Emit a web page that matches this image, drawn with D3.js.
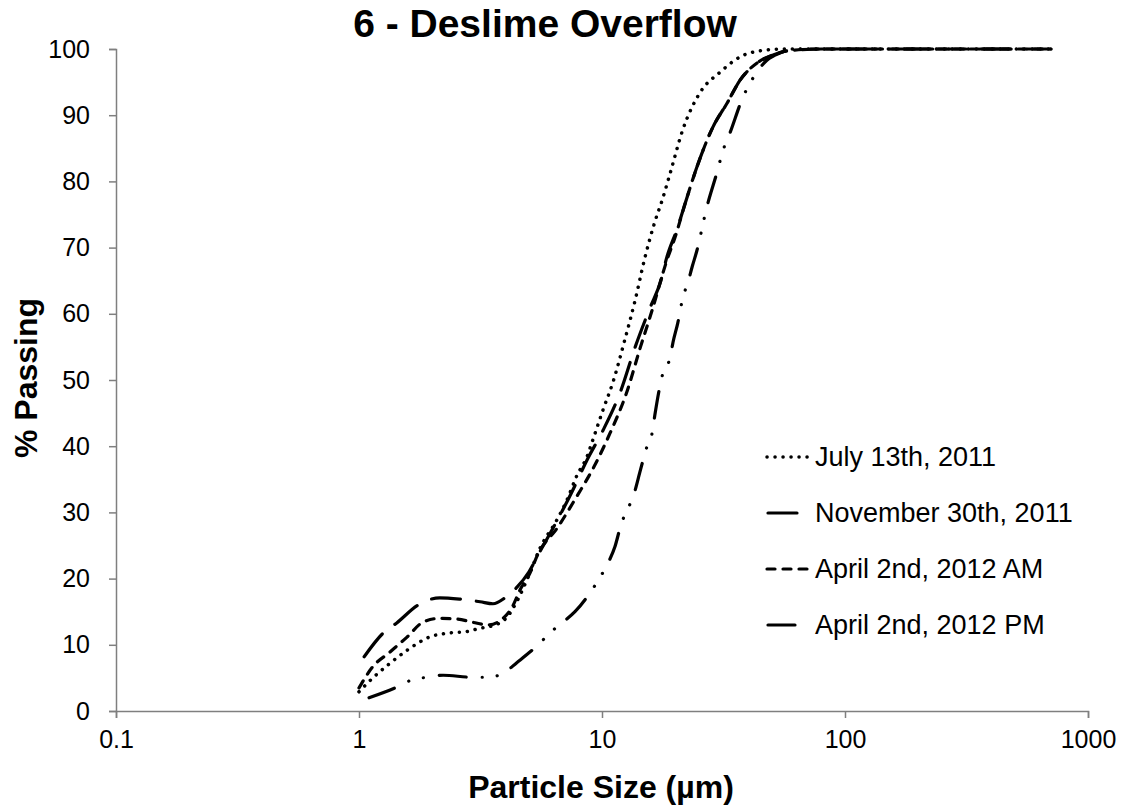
<!DOCTYPE html>
<html>
<head>
<meta charset="utf-8">
<script src="https://cdn.jsdelivr.net/npm/d3@7"></script>
<style>
  html, body { margin: 0; padding: 0; background: #fff; }
  svg { display: block; font-family: "Liberation Sans", Arial, sans-serif; }
</style>
</head>
<body>
<svg id="chart" width="1131" height="808"></svg>
<script>
// ---- Data (particle size in µm, % passing) ----
const seriesNames = ["July 13th, 2011", "November 30th, 2011", "April 2nd, 2012 AM", "April 2nd, 2012 PM"];

const julySize    = [1.0, 1.14, 1.34, 1.58, 1.96, 2.37, 2.78, 3.15, 3.4, 4.0, 4.5, 5.0, 5.56, 6.53, 7.18, 7.89, 8.67, 9.1, 10.1, 11.1, 12.4, 13.7, 15.0, 16.5, 17.7, 19.1, 21.5, 25.3, 30.6, 37.0, 46.0, 56, 80, 150, 300, 704];
const julyPassing = [2.9, 5.0, 7.2, 9.2, 11.2, 11.8, 12.0, 12.5, 12.7, 13.9, 16.8, 20.5, 24.6, 28.9, 31.9, 35.6, 38.4, 40.6, 45.5, 49.7, 56.0, 62.1, 68.4, 73.9, 77.2, 81.3, 87.8, 93.4, 96.5, 98.8, 99.8, 100, 100, 100, 100, 100];

const novSize    = [1.05, 1.26, 1.43, 1.75, 2.15, 2.6, 3.15, 3.56, 3.99, 4.47, 5.0, 5.5, 6.5, 7.5, 8.7, 10.1, 11.9, 13.7, 15.8, 17.4, 18.5, 20.5, 22.0, 24.6, 28.6, 32.7, 37.0, 43.5, 50.6, 60, 80, 150, 300, 704];
const novPassing = [8.2, 11.8, 13.3, 16.0, 17.1, 16.9, 16.5, 16.2, 17.1, 18.7, 21.0, 23.8, 28.6, 33.0, 38.0, 42.4, 48.2, 55.0, 61.0, 64.8, 68.6, 73.1, 76.7, 82.2, 88.2, 91.8, 95.3, 97.9, 99.1, 99.8, 100, 100, 100, 100];

const amSize    = [1.0, 1.14, 1.34, 1.58, 1.83, 2.15, 2.53, 2.94, 3.4, 3.92, 4.27, 4.6, 5.0, 5.5, 6.5, 7.9, 9.3, 10.8, 12.6, 14.4, 16.1, 18.5, 20.0, 22.0, 24.6, 28.6, 32.7, 37.0, 43.5, 50.6, 60, 80, 150, 300, 704];
const amPassing = [3.5, 6.7, 8.9, 11.2, 13.4, 14.0, 13.9, 13.4, 13.0, 14.0, 15.7, 18.3, 20.5, 24.0, 27.5, 32.5, 37.0, 42.0, 48.0, 55.0, 60.6, 68.1, 71.6, 76.7, 82.2, 88.2, 91.8, 95.3, 97.9, 99.1, 99.8, 100, 100, 100, 100];

const pmSize    = [1.1, 1.43, 1.65, 1.91, 2.22, 2.92, 3.4, 3.92, 4.46, 5.46, 6.11, 6.84, 7.74, 9.1, 9.82, 10.6, 11.3, 11.9, 13.7, 14.3, 15.3, 16.1, 16.5, 17.8, 19.1, 19.6, 20.5, 21.5, 22.6, 23.5, 24.6, 27.0, 29.7, 31.5, 33.6, 38.0, 41.8, 47.7, 54.0, 65, 80, 150, 300, 704];
const pmPassing = [2.0, 3.6, 4.7, 5.1, 5.4, 5.1, 5.1, 5.7, 7.3, 10.0, 11.8, 13.3, 15.0, 18.3, 20.2, 22.4, 24.8, 27.8, 33.4, 36.0, 39.9, 42.1, 44.7, 51.0, 53.5, 55.7, 58.6, 62.4, 64.8, 67.1, 69.6, 76.1, 81.3, 84.7, 87.3, 92.7, 95.6, 98.3, 99.4, 100, 100, 100, 100, 100];

const xTickValues = [0.1, 1, 10, 100, 1000];
const xTickLabels = ["0.1", "1", "10", "100", "1000"];
const yTickValues = [0, 10, 20, 30, 40, 50, 60, 70, 80, 90, 100];

const titleText = "6 - Deslime Overflow";
const xAxisTitle = "Particle Size (µm)";
const yAxisTitle = "% Passing";

// ---- Styles ----
const lineStyles = [
  { dash: "0.1,7.9", cap: "round", width: 3.5 },
  { dash: "29,16", cap: "round", width: 3.2 },
  { dash: "8,8", cap: "round", width: 3.2 },
  { dash: "27,16,0.1,15,0.1,16", cap: "round", width: 3.2 }
];

const svg = d3.select("#chart");
const plotLeft = 116, plotRight = 1088, plotTop = 49, plotBottom = 711;

const x = d3.scaleLog().domain([0.1, 1000]).range([plotLeft, plotRight]);
const y = d3.scaleLinear().domain([0, 100]).range([plotBottom, plotTop]);

const axisColor = "#7f7f7f";

// X axis
const xAxis = svg.append("g")
  .attr("transform", `translate(0,${plotBottom})`)
  .call(d3.axisBottom(x).tickValues(xTickValues).tickFormat((d, i) => xTickLabels[i]).tickSizeOuter(0).tickSize(7).tickPadding(12));
xAxis.select(".domain").attr("stroke", axisColor).attr("stroke-width", 1.5);
xAxis.selectAll(".tick line").attr("stroke", axisColor).attr("stroke-width", 1.5);
xAxis.selectAll(".tick text").attr("font-size", 25).attr("fill", "#000").attr("font-family", "Liberation Sans, Arial, sans-serif");

// Y axis
const yAxis = svg.append("g")
  .attr("transform", `translate(${plotLeft},0)`)
  .call(d3.axisLeft(y).tickValues(yTickValues).tickFormat(d3.format("d")).tickSizeOuter(0).tickSize(7).tickPadding(19));
yAxis.select(".domain").attr("stroke", axisColor).attr("stroke-width", 1.5);
yAxis.selectAll(".tick line").attr("stroke", axisColor).attr("stroke-width", 1.5);
yAxis.selectAll(".tick text").attr("font-size", 25).attr("fill", "#000").attr("font-family", "Liberation Sans, Arial, sans-serif");

// Series
const seriesData = [
  d3.zip(julySize, julyPassing),
  d3.zip(novSize, novPassing),
  d3.zip(amSize, amPassing),
  d3.zip(pmSize, pmPassing)
];

const line = d3.line()
  .x(d => x(d[0]))
  .y(d => y(d[1]))
  .curve(d3.curveMonotoneX);

svg.append("g").selectAll("path")
  .data(seriesData)
  .join("path")
  .attr("d", line)
  .attr("fill", "none")
  .attr("stroke", "#000")
  .attr("stroke-width", (d, i) => lineStyles[i].width)
  .attr("stroke-linecap", (d, i) => lineStyles[i].cap)
  .attr("stroke-dasharray", (d, i) => lineStyles[i].dash);

// Legend
const legendRows = [457, 513, 569, 625];
const legendSampleX = [[767, 808], [768, 800], [767, 810], [768, 800]];
const legend = svg.append("g");
seriesNames.forEach((name, i) => {
  legend.append("line")
    .attr("x1", legendSampleX[i][0]).attr("x2", legendSampleX[i][1])
    .attr("y1", legendRows[i]).attr("y2", legendRows[i])
    .attr("stroke", "#000")
    .attr("stroke-width", lineStyles[i].width)
    .attr("stroke-linecap", lineStyles[i].cap)
    .attr("stroke-dasharray", lineStyles[i].dash);
  legend.append("text")
    .attr("x", 815).attr("y", legendRows[i])
    .attr("dy", "0.35em")
    .attr("font-size", 27)
    .attr("fill", "#000")
    .text(name);
});

// Titles
svg.append("text")
  .attr("x", 545).attr("y", 37)
  .attr("text-anchor", "middle")
  .attr("font-size", 39).attr("font-weight", "bold")
  .text(titleText);

svg.append("text")
  .attr("x", 601).attr("y", 798)
  .attr("text-anchor", "middle")
  .attr("font-size", 32).attr("font-weight", "bold")
  .text(xAxisTitle);

svg.append("text")
  .attr("transform", "translate(37,378) rotate(-90)")
  .attr("text-anchor", "middle")
  .attr("font-size", 32).attr("font-weight", "bold")
  .text(yAxisTitle);
</script>
</body>
</html>
